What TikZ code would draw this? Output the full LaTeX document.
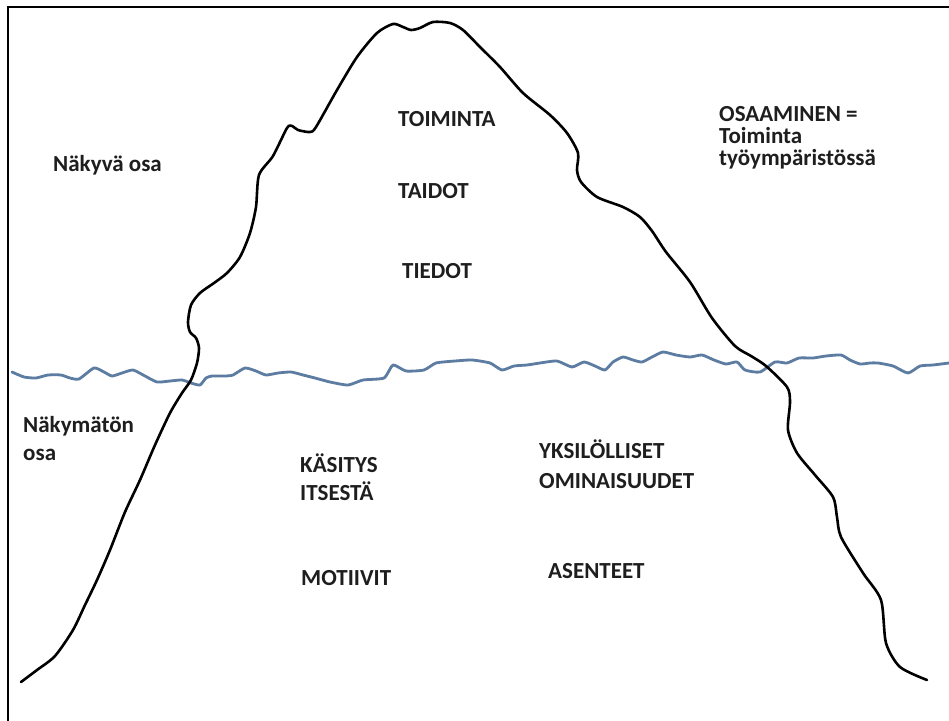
\documentclass[tikz,border=0pt]{standalone}
\usepackage{fontspec}
\setmainfont{Carlito}
\definecolor{water}{RGB}{92,124,162}
\definecolor{ink}{RGB}{30,30,30}
\begin{document}
\begin{tikzpicture}[x=1pt,y=-1pt,
  lbl/.style={anchor=base west,inner sep=0pt,text=ink,font=\fontsize{23}{27}\selectfont\bfseries},
  mountain/.style={draw=black,line width=2.6pt,line join=round,line cap=round},
  waterline/.style={draw=water,line width=2.8pt,line join=round,line cap=round}]
\useasboundingbox (0,0) rectangle (949,720);
\fill[white] (0,0) rectangle (949,720);
% frame
\draw[line width=2.6pt] (8,722) -- (8,7) -- (952,7);
% water
\draw[waterline] plot[smooth,tension=0.35] coordinates {
(12,372) (24,377) (36,378) (48,375) (61,375) (70,378) (79,379) (94,368) (104,372) (112,376) (122,373) (133,370)
(145,376) (157,382) (170,381) (182,380) (191,383) (200,385) (206,378) (212,376) (225,376) (233,375) (245,368)
(256,371) (266,375) (278,373) (291,372) (303,375) (315,378) (330,382) (348,385) (363,380) (384,378) (393,365)
(406,371) (424,370) (436,363) (455,361) (472,360) (490,363) (502,370) (514,366) (527,365) (540,363) (557,361)
(572,367) (584,362) (595,366) (605,370) (613,362) (623,357) (633,360) (642,362) (652,357) (663,352) (676,355)
(690,357) (702,355) (714,360) (726,364) (737,362) (745,370) (760,372) (775,362) (787,363) (799,358) (813,358)
(826,356) (841,355) (850,360) (860,364) (870,363) (878,363) (893,366) (908,373) (920,366) (933,365) (949,363)};
% iceberg
\draw[mountain] plot[smooth,tension=0.45] coordinates {
(21,682) (37,670) (55,656) (73,630) (85,605) (97,580) (110,550) (125,512) (140,480) (155,445) (170,413)
(182,393) (191,380) (197,363) (199,348) (196,338) (190,332) (188,322) (191,305) (200,293) (214,283) (227,273)
(240,257) (250,233) (256,207) (259,175) (273,156) (287,128) (292,126) (298,130) (310,132) (316,127) (337,90)
(357,57) (377,33) (393,24) (403,27) (411,30) (420,28) (433,22) (450,23) (463,30) (480,47) (500,67) (523,93)
(550,115) (567,133) (578,153) (577,170) (581,182) (597,197) (623,207) (640,217) (652,231) (666,252) (690,282)
(712,318) (735,346) (751,356) (766,366) (787,387) (790,402) (788,430) (797,453) (815,475) (833,497) (837,517)
(841,537) (863,573) (881,600) (886,643) (900,667) (927,680)};
% labels above water
\node[lbl] (vis) at (53,171) {Näkyvä osa};
\node[lbl] (toim) at (398,126) {TOIMINTA};
\node[lbl] (taid) at (398,198) {TAIDOT};
\node[lbl] (tied) at (402,278) {TIEDOT};
\node[lbl] (osa1) at (719,121) {OSAAMINEN =};
\node[lbl] (osa2) at (719,143) {Toiminta};
\node[lbl] (osa3) at (719,165) {työympäristössä};
% labels below water
\node[lbl] (inv1) at (23,432) {Näkymätön};
\node[lbl] (inv2) at (23,460) {osa};
\node[lbl] (kas1) at (300,472) {KÄSITYS};
\node[lbl] (kas2) at (300,500) {ITSESTÄ};
\node[lbl] (yks1) at (539,458) {YKSILÖLLISET};
\node[lbl] (yks2) at (539,488) {OMINAISUUDET};
\node[lbl] (mot) at (301,585) {MOTIIVIT};
\node[lbl] (ase) at (548,578) {ASENTEET};
\end{tikzpicture}
\end{document}
